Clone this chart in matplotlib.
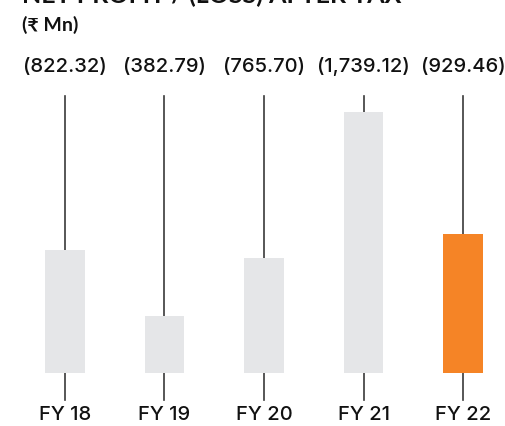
import matplotlib
matplotlib.use("Agg")
import matplotlib.pyplot as plt

plt.rcParams['font.family'] = ['Lato', 'Noto Sans', 'DejaVu Sans']

# net profit / (loss) after tax, Rs Mn (all years are losses)
years = ["FY 18", "FY 19", "FY 20", "FY 21", "FY 22"]
losses = [822.32, 382.79, 765.70, 1739.12, 929.46]
value_labels = ["(822.32)", "(382.79)", "(765.70)", "(1,739.12)", "(929.46)"]

grey = "#e5e6e8"
orange = "#f58426"
line_col = "#3a3a3a"
text_col = "#111111"

fig = plt.figure(figsize=(5.06, 4.27), dpi=100)
ax = fig.add_axes([0, 0, 1, 1])

# scale: 0.15 px per Mn, x step ~99.5 px
ax.set_xlim(-0.653, 4.432)
ax.set_ylim(-353, 2493)
ax.axis("off")

x = list(range(len(years)))
colors = [grey] * (len(years) - 1) + [orange]
ax.bar(x, losses, width=0.40, color=colors, zorder=2)

label_y = 2047
for i, v in enumerate(losses):
    # connector from label down to the bar top, and stub down to the year
    ax.plot([i, i], [v, 1847], color=line_col, lw=1.2, zorder=1)
    ax.plot([i, i], [0, -180], color=line_col, lw=1.2, zorder=1)
    ax.text(i, label_y, value_labels[i], ha="center", va="center",
            fontsize=14.5, fontweight="medium", color=text_col,
            family=['Inter', 'DejaVu Sans'])
    ax.text(i, -273, years[i], ha="center", va="center",
            fontsize=14.5, fontweight="medium", color=text_col,
            family=['Inter', 'DejaVu Sans'])

fig.text(22 / 506, 1 - 25 / 427, "(\u20b9 Mn)", ha="left", va="center",
         fontsize=14, fontweight="bold", color=text_col,
         family=['Lato', 'DejaVu Sans'])
fig.text(22 / 506, 1 - 3 / 427, "NET PROFIT / (LOSS) AFTER TAX", ha="left",
         va="baseline", fontsize=18, fontweight="bold", color=text_col)

fig.savefig("out.png", dpi=100)
